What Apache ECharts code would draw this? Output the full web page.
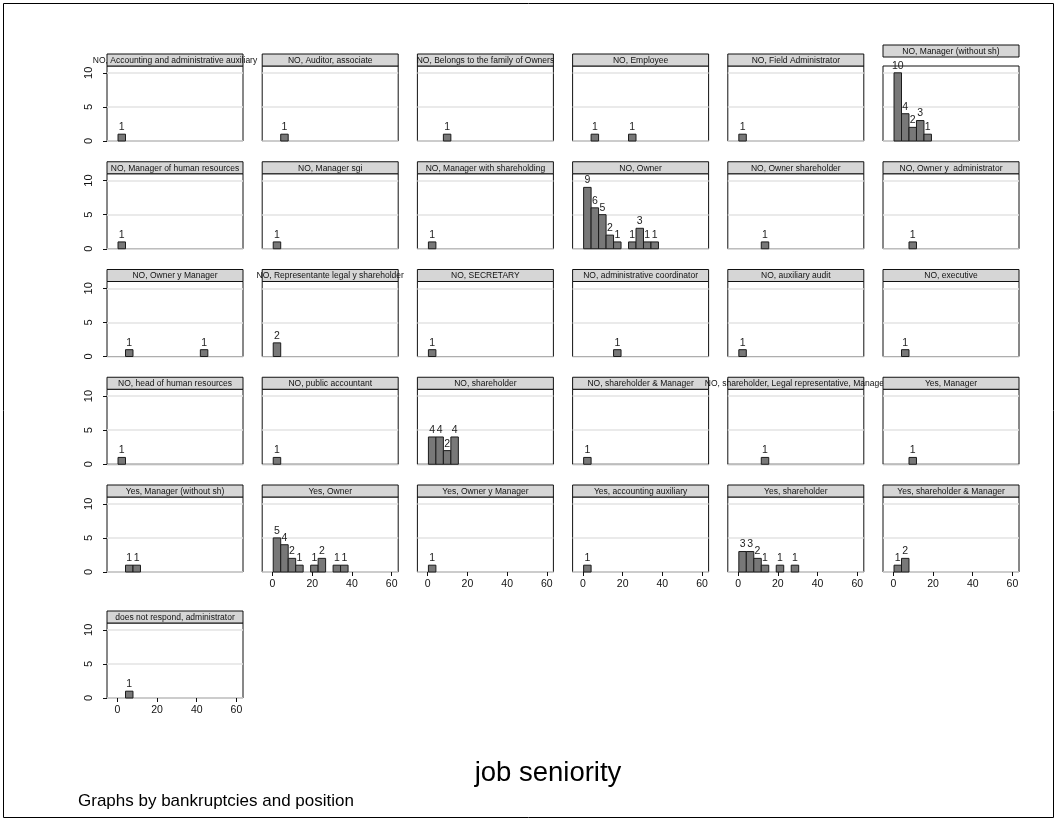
<!DOCTYPE html>
<html>
<head>
<meta charset="utf-8">
<script src="https://cdn.jsdelivr.net/npm/echarts@6/dist/echarts.min.js"></script>
<style>
html,body{margin:0;padding:0;background:#fff;}
#chart{width:1057px;height:821px;}
</style>
</head>
<body>
<div id="chart"></div>
<script>
// ---- data ----
const panelNames = [
  "NO, Accounting and administrative auxiliary", "NO, Auditor, associate", "NO, Belongs to the family of Owners",
  "NO, Employee", "NO, Field Administrator", "NO, Manager (without sh)",
  "NO, Manager of human resources", "NO, Manager sgi", "NO, Manager with shareholding",
  "NO, Owner", "NO, Owner shareholder", "NO, Owner y  administrator",
  "NO, Owner y Manager", "NO, Representante legal y shareholder", "NO, SECRETARY",
  "NO, administrative coordinator", "NO, auxiliary audit", "NO, executive",
  "NO, head of human resources", "NO, public accountant", "NO, shareholder",
  "NO, shareholder & Manager", "NO, shareholder, Legal representative, Manager", "Yes, Manager",
  "Yes, Manager (without sh)", "Yes, Owner", "Yes, Owner y Manager",
  "Yes, accounting auxiliary", "Yes, shareholder", "Yes, shareholder & Manager",
  "does not respond, administrator"
];
// frequency per histogram bin (bin 0, 1, 2, ...)
const panelCounts = [
  [1], [0,1], [0,0,1], [0,1,0,0,0,0,1], [1], [10,4,2,3,1],
  [1], [1], [1], [9,6,5,2,1,0,1,3,1,1], [0,0,0,1], [0,0,1],
  [0,1,0,0,0,0,0,0,0,0,0,1], [2], [1], [0,0,0,0,1], [1], [0,1],
  [1], [1], [4,4,2,4], [1], [0,0,0,1], [0,0,1],
  [0,1,1], [5,4,2,1,0,1,2,0,1,1], [1], [1], [3,3,2,1,0,1,0,1], [1,2],
  [0,1]
];
const binStart = 0.35;
const binWidth = 3.77;
const xTicks = [0, 20, 40, 60];
const yTicks = [0, 5, 10];
const xTitle = "job seniority";
const note = "Graphs by bankruptcies and position";

// ---- layout ----
const nCols = 6;
const colLeft0 = 107, colStep = 155.2, plotW = 136, plotH = 75, stripH = 12;
const rowBottoms = [141, 248.75, 356.5, 464.25, 572, 698];
const FONT = "'Liberation Sans', Arial, Helvetica, sans-serif";

const grids = [], xAxes = [], yAxes = [], series = [], graphics = [];

panelNames.forEach((name, i) => {
  const r = Math.floor(i / nCols), c = i % nCols;
  const left = colLeft0 + colStep * c;
  const top = rowBottoms[r] - plotH;
  grids.push({left: left, top: top, width: plotW, height: plotH, show: true,
    borderColor: '#111', borderWidth: 1, backgroundColor: '#fff', containLabel: false});
  const showX = (r === 4 && c >= 1) || (r === 5);
  const showY = (c === 0);
  xAxes.push({type: 'value', gridIndex: i, min: -5.2, max: 63.3, position: 'bottom',
    axisLine: {show: false, onZero: false},
    splitLine: {show: false},
    axisTick: {show: showX, customValues: xTicks, length: 4, lineStyle: {color: '#111'}},
    axisLabel: {show: showX, customValues: xTicks, margin: 7, fontSize: 10.5, color: '#111', fontFamily: FONT}
  });
  yAxes.push({type: 'value', gridIndex: i, min: 0, max: 11, interval: 5, position: 'left',
    axisLine: {show: false, onZero: false},
    splitLine: {show: true, lineStyle: {color: '#e3e3e3', width: 1.5}},
    axisTick: {show: showY, customValues: yTicks, length: 4, lineStyle: {color: '#111'}},
    axisLabel: {show: showY, customValues: yTicks, rotate: 90, margin: 13, fontSize: 11, color: '#111', fontFamily: FONT}
  });
  const items = [];
  panelCounts[i].forEach((cnt, b) => {
    if (cnt > 0) items.push([binStart + b * binWidth, binStart + (b + 1) * binWidth, cnt]);
  });
  series.push({type: 'custom', xAxisIndex: i, yAxisIndex: i, data: items, clip: false,
    renderItem: function (params, api) {
      const p0 = api.coord([api.value(0), 0]);
      const p1 = api.coord([api.value(1), api.value(2)]);
      return {type: 'group', children: [
        {type: 'rect', shape: {x: p0[0], y: p1[1], width: p1[0] - p0[0], height: p0[1] - p1[1]},
          style: {fill: '#787878', stroke: '#1c1c1c', lineWidth: 1}},
        {type: 'text', style: {text: String(api.value(2)), x: (p0[0] + p1[0]) / 2, y: p1[1] - 1.5,
          textAlign: 'center', textVerticalAlign: 'bottom', fontSize: 10.5, fontFamily: FONT, fill: '#222'}}
      ]};
    }
  });
  // strip (lifted when a bar label reaches above the plot box)
  const maxCount = Math.max.apply(null, panelCounts[i]);
  const lift = maxCount >= 10 ? 9 : 0;
  const sTop = top - stripH - lift;
  graphics.push({type: 'rect', z: 10, z2: 2 * i, shape: {x: left, y: sTop, width: plotW, height: stripH},
    style: {fill: '#d6d6d6', stroke: '#111', lineWidth: 1}});
  graphics.push({type: 'text', z: 10, z2: 2 * i + 1, x: left + plotW / 2, y: sTop + stripH / 2 + 0.5,
    style: {text: name, textAlign: 'center', textVerticalAlign: 'middle', fontSize: 8.5, fontFamily: FONT, fill: '#111'}});
});

graphics.push({type: 'text', z: 10, x: 548, y: 773, style: {text: xTitle, textAlign: 'center', textVerticalAlign: 'middle',
  fontSize: 27.5, fontFamily: FONT, fill: '#000'}});
graphics.push({type: 'text', z: 10, x: 78, y: 801, style: {text: note, textAlign: 'left', textVerticalAlign: 'middle',
  fontSize: 17, fontFamily: FONT, fill: '#000'}});
graphics.push({type: 'rect', z: 10, shape: {x: 3.5, y: 3.5, width: 1050, height: 814},
  style: {fill: 'none', stroke: '#000', lineWidth: 1}});

const chart = echarts.init(document.getElementById('chart'), null, {renderer: 'canvas'});
chart.setOption({
  animation: false,
  backgroundColor: '#fff',
  grid: grids, xAxis: xAxes, yAxis: yAxes, series: series, graphic: graphics
});
</script>
</body>
</html>
